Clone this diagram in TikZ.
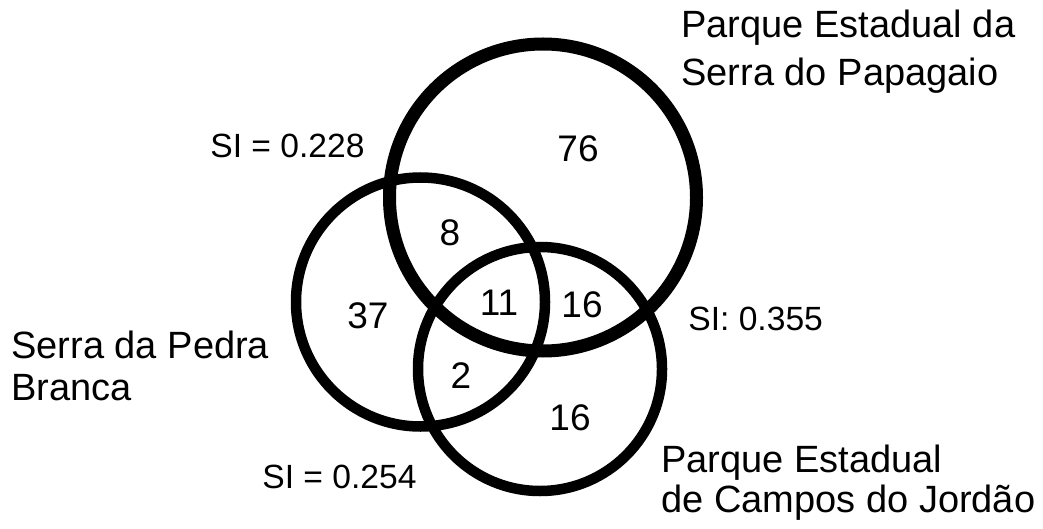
\documentclass[tikz,border=0pt]{standalone}
\usepackage{fontspec}
\setmainfont{Liberation Sans}
\usetikzlibrary{positioning}

\tikzset{
  site/.style={draw,circle,inner sep=0pt,line width=5.25pt},
  count/.style={font=\fontsize{18.5}{22}\selectfont,inner sep=0pt,anchor=base},
  simi/.style={font=\fontsize{16.8}{20}\selectfont,inner sep=0pt,anchor=base west},
  area/.style={align=left,inner sep=0pt,anchor=west}
}

\begin{document}
\begin{tikzpicture}[x=0.5pt,y=-0.5pt]
\useasboundingbox (0,0) rectangle (1043,529);
% the three areas
\node[site,line width=6.5pt,minimum size=153.5pt] (pesp) at (543,197.5) {};
\node[site,minimum size=124.5pt] (spb) at (420.5,302) {};
\node[site,minimum size=122pt] (pecj) at (540,369) {};
% species counts
\node[count] (c76) at (578,162) {76};
\node[count] (c8) at (450,245) {8};
\node[count] (c37) at (368,328) {37};
\node[count] (c11) at (499,315) {11};
\node[count] (c16a) at (582,317) {16};
\node[count] (c2) at (461,388) {2};
\node[count] (c16b) at (570,430) {16};
% similarity
\node[simi] (si1) at (210,158) {SI = 0.228};
\node[simi] (si2) at (688,330) {SI: 0.355};
\node[simi] (si3) at (262,488) {SI = 0.254};
% area names
\node[area,font=\fontsize{19}{24}\selectfont] (lpesp) at (681,51.5) {Parque Estadual da\\Serra do Papagaio};
\node[area,font=\fontsize{19}{21}\selectfont] (lspb) at (11,365.5) {Serra da Pedra\\Branca};
\node[area,font=\fontsize{19}{20}\selectfont] (lpecj) at (661,482.5) {Parque Estadual\\de Campos do Jordão};
\end{tikzpicture}
\end{document}
